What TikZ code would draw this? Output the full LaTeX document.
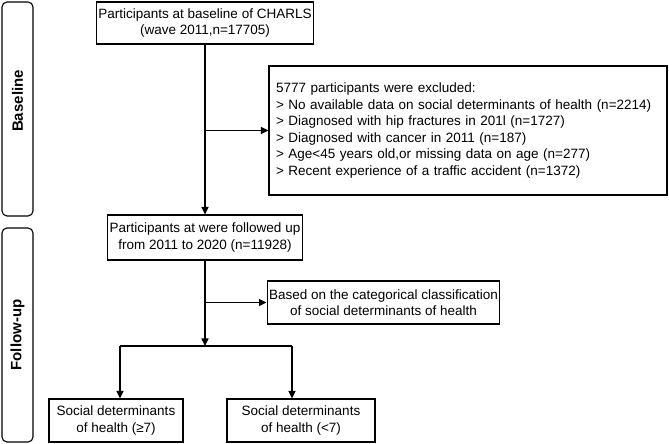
\documentclass[tikz,border=0pt]{standalone}
\usepackage{fontspec}
\setmainfont{Liberation Sans}
\usetikzlibrary{arrows.meta}

\begin{document}
\begin{tikzpicture}[
  x=1pt, y=1pt,
  font=\fontsize{13.5}{16.5}\selectfont,
  >={Triangle[length=7.5pt,width=7pt]},
  box/.style={draw=black, line width=1.1pt, fill=white,
              align=center, inner sep=2pt},
  phase/.style={draw=black, line width=1.1pt, rounded corners=5pt,
                minimum width=31pt, minimum height=214pt},
  tag/.style={rotate=90, font=\fontsize{15}{17}\selectfont\bfseries},
  flow/.style={->, line width=1.1pt},
  link/.style={line width=1.1pt},
]
\useasboundingbox (0,0) rectangle (669,444);

% study phases
\node[phase] (pbase) at (17.5,335) {};
\node[tag] at (17.5,343) {Baseline};
\node[phase] (pfollow) at (17.5,109) {};
\node[tag] at (17.5,109) {Follow-up};

% main boxes
\node[box, minimum width=216pt, minimum height=42pt] (base) at (205,421)
  {Participants at baseline of CHARLS\\ (wave 2011,n=17705)};
\node[box, minimum width=398pt, minimum height=129pt, text width=384pt,
      align=left] (excl) at (468,313.5)
  {5777 participants were excluded:\\
   > No available data on social determinants of health (n=2214)\\
   > Diagnosed with hip fractures in 201l (n=1727)\\
   > Diagnosed with cancer in 2011 (n=187)\\
   > Age<45 years old,or missing data on age (n=277)\\
   > Recent experience of a traffic accident (n=1372)};
\node[box, minimum width=194pt, minimum height=45pt] (follow) at (205,206.5)
  {Participants at were followed up\\ from 2011 to 2020 (n=11928)};
\node[box, minimum width=229pt, minimum height=43pt] (basis) at (383.5,141.5)
  {Based on the categorical classification\\ of social determinants of health};
\node[box, minimum width=134pt, minimum height=43pt] (high) at (116,23.5)
  {Social determinants\\ of health (≥7)};
\node[box, minimum width=148pt, minimum height=43pt] (low) at (301,23.5)
  {Social determinants\\ of health (<7)};

% connectors
\draw[flow] (base.south) -- (follow.north);
\draw[flow] (base.south |- excl.west) -- (excl.west);
\draw[flow] (follow.south |- basis.west) -- (basis.west);

\coordinate (split) at (205,98);
\coordinate (lft) at (120,98);
\coordinate (rgt) at (292,98);
\draw[flow] (follow.south) -- (split);
\draw[link] (lft) -- (rgt);
\draw[flow] (lft) -- (lft |- high.north);
\draw[flow] (rgt) -- (rgt |- low.north);
\end{tikzpicture}
\end{document}
